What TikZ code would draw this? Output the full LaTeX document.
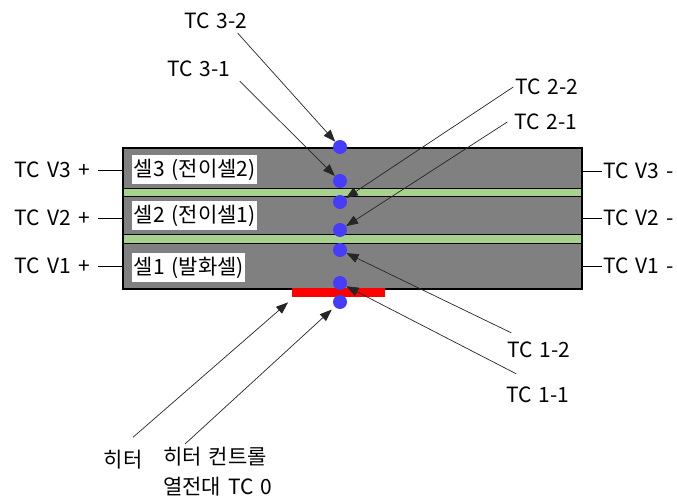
\documentclass[tikz,border=0pt]{standalone}
\usepackage{fontspec}
\setmainfont[WordSpace=1.5]{Noto Sans CJK KR}
\usepackage{xcolor}
\usetikzlibrary{arrows.meta}

\definecolor{cellgray}{RGB}{128,128,128}
\definecolor{sepgreen}{RGB}{169,209,142}
\definecolor{tcblue}{RGB}{70,60,250}

\begin{document}
\begin{tikzpicture}[
	x=1pt, y=-1pt,
	lbl/.style={font=\fontsize{21}{30}\selectfont, inner sep=1pt},
	celllbl/.style={lbl, fill=white, anchor=west, minimum height=29pt, inner sep=1.5pt},
	strip/.style={draw, line width=1.2pt, fill=sepgreen, rectangle,
		minimum width=458pt, minimum height=8pt, inner sep=0pt, anchor=north west},
	tcdot/.style={circle, fill=tcblue, minimum size=14pt, inner sep=0pt},
	arr/.style={-{Triangle[length=12pt,width=9pt]}, line width=0.7pt, draw=black!85},
	wire/.style={line width=0.7pt},
	]
	\useasboundingbox (0,0) rectangle (677,502);
	
	% cell stack
	\node[draw, line width=1.6pt, fill=cellgray, rectangle, inner sep=0pt,
		minimum width=459pt, minimum height=141pt, anchor=north west] (stack) at (122,147) {};
	\node[strip] (sep32) at (123,188) {};
	\node[strip, minimum height=9pt] (sep21) at (123,234) {};
	
	\node[celllbl] (cell3) at (132,169.5) {셀3 (전이셀2)};
	\node[celllbl] (cell2) at (132,216) {셀2 (전이셀1)};
	\node[celllbl] (cell1) at (132,267.5) {셀1 (발화셀)};
	
	% heater
	\node[fill=red, rectangle, inner sep=0pt, minimum width=93pt, minimum height=9pt,
		anchor=north west] (heater) at (292,288) {};
	
	% thermocouples
	\foreach \n/\y in {32/147, 31/181, 22/202, 21/230, 12/250, 11/283, 0/302}
		\node[tcdot] (tc\n) at (340,\y) {};
	
	% voltage taps
	\node[lbl, anchor=east] (v3p) at (91,170) {TC V3 +};
	\node[lbl, anchor=east] (v2p) at (91,218) {TC V2 +};
	\node[lbl, anchor=east] (v1p) at (91,266) {TC V1 +};
	\node[lbl, anchor=west] (v3m) at (602,171) {TC V3 -};
	\node[lbl, anchor=west] (v2m) at (602,218) {TC V2 -};
	\node[lbl, anchor=west] (v1m) at (602,266) {TC V1 -};
	
	\foreach \v in {v3p, v2p, v1p}
		\draw[wire] ([xshift=7pt]\v.east) -- (\v.east -| stack.west);
	\foreach \v in {v3m, v2m, v1m}
		\draw[wire] (\v.west) -- (\v.west -| stack.east);
	
	% labels
	\node[lbl] (tc32lab) at (216,21) {TC 3-2};
	\node[lbl] (tc31lab) at (199,69) {TC 3-1};
	\node[lbl] (tc22lab) at (547,87) {TC 2-2};
	\node[lbl] (tc21lab) at (546,122) {TC 2-1};
	\node[lbl] (tc12lab) at (539,350) {TC 1-2};
	\node[lbl] (tc11lab) at (538,395) {TC 1-1};
	\node[lbl] (heatlab) at (123,460) {히터};
	\node[lbl, align=left, anchor=north west] (tc0lab) at (162,446) {히터 컨트롤\\열전대 TC 0};
	
	\draw[arr] ([shift={(-11pt,-3pt)}]tc32lab.south east) -- (tc32);
	\draw[arr] ([shift={(8pt,-3pt)}]tc31lab.south east) -- (tc31);
	\draw[arr] ([xshift=-1pt]tc22lab.west) -- (tc22);
	\draw[arr] ([xshift=-6pt]tc21lab.west) -- (tc21);
	\draw[arr] ([shift={(5pt,8pt)}]tc12lab.north west) -- (tc12);
	\draw[arr] ([shift={(11pt,12pt)}]tc11lab.north west) -- (tc11);
	\draw[arr] ([shift={(10pt,12pt)}]heatlab.north) -- ([shift={(-4pt,-5pt)}]heater.south west);
	\draw[arr, shorten >=4pt] ([shift={(23pt,2pt)}]tc0lab.north west) -- (tc0);
	
\end{tikzpicture}
\end{document}
